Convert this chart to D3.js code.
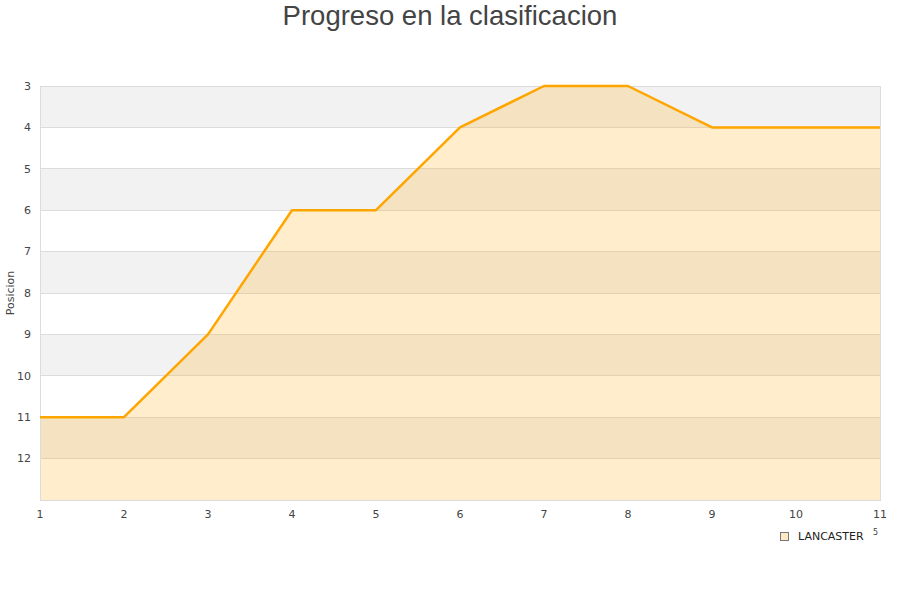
<!DOCTYPE html>
<html><head><meta charset="utf-8">
<script src="https://cdn.jsdelivr.net/npm/d3@7"></script>
<style>body{margin:0;background:#fff}</style>
</head><body>
<svg id="c" width="900" height="600"></svg>
<script>
const rounds = [1,2,3,4,5,6,7,8,9,10,11];
const positions = [11,11,9,6,6,4,3,3,4,4,4];
const yTicks = [3,4,5,6,7,8,9,10,11,12];
const seriesName = "LANCASTER";
const title = "Progreso en la clasificacion";

const svg = d3.select("#c");
const m = {l:40, r:880, t:86, b:500};
const x = d3.scaleLinear().domain([1,11]).range([m.l, m.r]);
const y = d3.scaleLinear().domain([3,13]).range([m.t, m.b]);

// bands
const bands = d3.range(3,13);
svg.selectAll("rect.band").data(bands).enter().append("rect")
  .attr("x", m.l).attr("width", m.r-m.l)
  .attr("y", d=>y(d)).attr("height", d=>y(d+1)-y(d))
  .attr("fill", (d,i)=> i%2===0 ? "#f2f2f2" : "#ffffff");
// grid
svg.selectAll("line.g").data(d3.range(4,13)).enter().append("line")
  .attr("x1", m.l).attr("x2", m.r).attr("y1", d=>y(d)).attr("y2", d=>y(d))
  .attr("stroke", "#dcdcdc").attr("stroke-width",1).attr("shape-rendering","crispEdges");

const data = rounds.map((r,i)=>({r, p:positions[i]}));
const area = d3.area().x(d=>x(d.r)).y0(y(13)).y1(d=>y(d.p));
svg.append("path").datum(data).attr("d", area)
  .attr("fill", "rgb(255,165,0)").attr("fill-opacity", 0.2);

// border
svg.append("rect").attr("x", m.l+0.5).attr("y", m.t+0.5).attr("width", m.r-m.l).attr("height", m.b-m.t)
  .attr("fill","none").attr("stroke","#dcdcdc").attr("stroke-width",1);

const line = d3.line().x(d=>x(d.r)).y(d=>y(d.p));
svg.append("path").datum(data).attr("d", line)
  .attr("fill","none").attr("stroke","#ffa500").attr("stroke-width",2.5).attr("stroke-linejoin","round");

const font = "DejaVu Sans, Verdana, sans-serif";
// y axis labels
svg.selectAll("text.yt").data(yTicks).enter().append("text")
  .attr("x", 31).attr("y", d=>y(d)).attr("dy","0.35em").attr("text-anchor","end")
  .attr("font-family", font).attr("font-size", 11).attr("fill","#444").text(d=>d);
// x axis labels
svg.selectAll("text.xt").data(rounds).enter().append("text")
  .attr("x", d=>x(d)).attr("y", 518).attr("text-anchor","middle")
  .attr("font-family", font).attr("font-size", 11).attr("fill","#444").text(d=>d);

svg.append("text").attr("transform","translate(14,293) rotate(-90)").attr("text-anchor","middle")
  .attr("font-family", font).attr("font-size", 11).attr("fill","#444").text("Posicion");

svg.append("text").attr("x",450).attr("y",25).attr("text-anchor","middle")
  .attr("font-family","Liberation Sans, Arial, sans-serif").attr("font-size",27.5).attr("fill","#444").text(title);

// legend
svg.append("rect").attr("x",780.5).attr("y",532.5).attr("width",8).attr("height",8)
  .attr("fill","#ffe9c4").attr("stroke","#777").attr("stroke-width",1);
svg.append("text").attr("x",798).attr("y",540).attr("font-family",font).attr("font-size",11)
  .attr("fill","#222").text(seriesName);
svg.append("text").attr("x",873).attr("y",535).attr("font-family",font).attr("font-size",8)
  .attr("fill","#444").text("5");
</script>
</body></html>
